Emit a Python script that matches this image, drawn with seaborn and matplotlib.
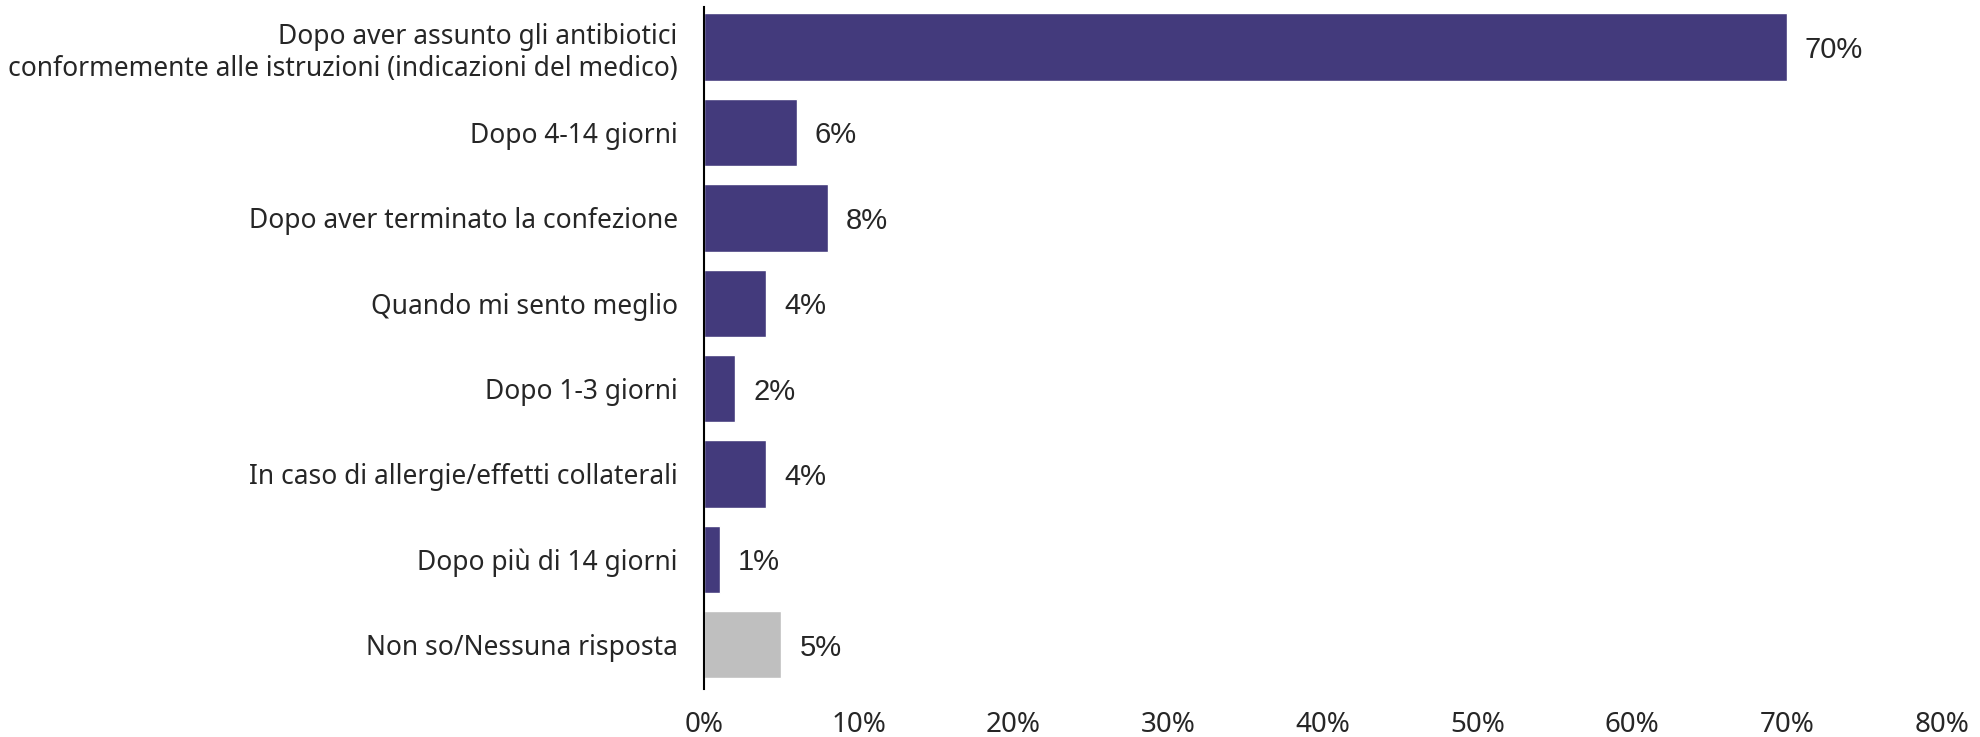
import pandas as pd
import matplotlib
matplotlib.use("Agg")
import matplotlib.pyplot as plt
import seaborn as sns

sns.set_style("white")
plt.rcParams['font.family'] = ['Noto Sans', 'DejaVu Sans']

# data
risposte = [
    "Dopo aver assunto gli antibiotici\nconformemente alle istruzioni (indicazioni del medico)",
    "Dopo 4-14 giorni",
    "Dopo aver terminato la confezione",
    "Quando mi sento meglio",
    "Dopo 1-3 giorni",
    "In caso di allergie/effetti collaterali",
    "Dopo più di 14 giorni",
    "Non so/Nessuna risposta",
]
percentuali = [70, 6, 8, 4, 2, 4, 1, 5]
gruppo = ["risposta"] * 7 + ["nr"]

df = pd.DataFrame({"Risposta": risposte, "Pct": percentuali, "Gruppo": gruppo})

fig = plt.figure(figsize=(19.8, 7.37), dpi=100)
ax = fig.add_axes([0.3556, 0.065, 0.625, 0.9255])

sns.barplot(data=df, x="Pct", y="Risposta", hue="Gruppo",
            palette={"risposta": "#433A7C", "nr": "#BFBFBF"},
            width=0.79, dodge=False, legend=False, saturation=1, ax=ax)

# value labels
for i, v in enumerate(percentuali):
    ax.annotate(f"{v}%", xy=(v, i), xytext=(18, -3), textcoords="offset pixels",
                va="center", ha="left", fontsize=21, family="Liberation Sans")

ax.set_xlim(0, 80)
ax.set_ylim(7.52, -0.47)
ax.set_xticks(range(0, 81, 10))
ax.set_xticklabels([f"{t}%" for t in range(0, 81, 10)], fontsize=20)
ax.tick_params(axis="y", labelsize=19, length=0, pad=19)
ax.tick_params(axis="x", length=0, pad=16)
ax.set_xlabel("")
ax.set_ylabel("")
for s in ["top", "right", "bottom"]:
    ax.spines[s].set_visible(False)
ax.spines["left"].set_color("black")
ax.spines["left"].set_linewidth(1.5)

fig.savefig("out.png", dpi=100)
